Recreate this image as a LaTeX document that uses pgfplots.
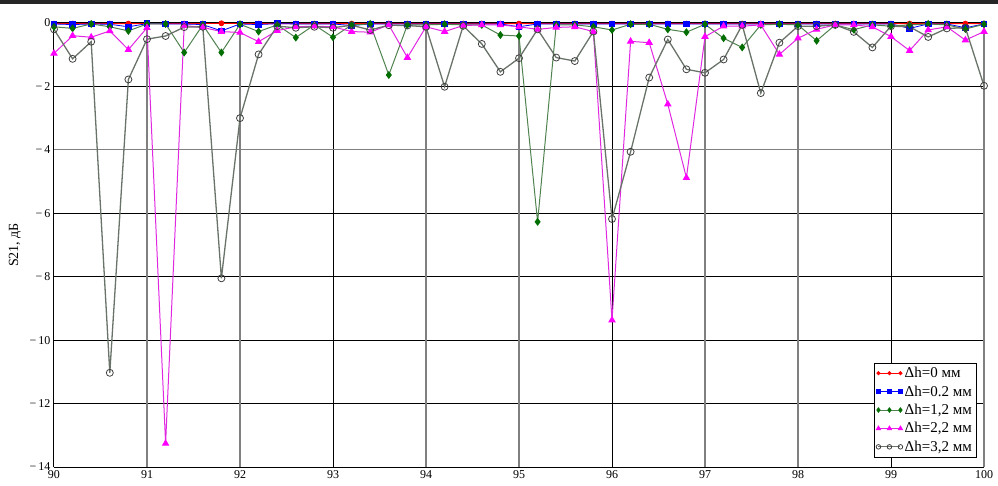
\documentclass[border=0pt]{standalone}
\usepackage{fontspec}
\setmainfont{Liberation Serif}
\usepackage{pgfplots}
\pgfplotsset{compat=1.18}
\usepackage{pgfplotstable}

\pgfplotstableread{
x s1 s2 s3 s4 s5
90.0 -0.02 -0.03 -0.12 -0.96 -0.20
90.2 -0.02 -0.05 -0.17 -0.40 -1.13
90.4 -0.02 -0.03 -0.03 -0.45 -0.59
90.6 -0.02 -0.04 -0.12 -0.25 -11.03
90.8 -0.02 -0.12 -0.25 -0.84 -1.78
91.0 -0.02 -0.02 -0.03 -0.15 -0.51
91.2 -0.02 -0.03 -0.03 -13.26 -0.41
91.4 -0.02 -0.03 -0.93 -0.08 -0.13
91.6 -0.02 -0.05 -0.06 -0.14 -0.12
91.8 -0.01 -0.25 -0.93 -0.27 -8.05
92.0 -0.02 -0.03 -0.04 -0.30 -3.00
92.2 -0.02 -0.05 -0.27 -0.59 -0.99
92.4 -0.02 -0.02 -0.06 -0.24 -0.10
92.6 -0.02 -0.03 -0.46 -0.12 -0.15
92.8 -0.02 -0.03 -0.06 -0.10 -0.12
93.0 -0.02 -0.03 -0.45 -0.12 -0.15
93.2 -0.02 -0.08 -0.06 -0.27 -0.07
93.4 -0.02 -0.03 -0.03 -0.29 -0.22
93.6 -0.02 -0.03 -1.64 -0.06 -0.07
93.8 -0.02 -0.03 -0.06 -1.09 -0.08
94.0 -0.02 -0.03 -0.06 -0.12 -0.12
94.2 -0.02 -0.03 -0.04 -0.27 -2.01
94.4 -0.02 -0.03 -0.06 -0.08 -0.09
94.6 -0.02 -0.03 -0.06 -0.06 -0.66
94.8 -0.02 -0.03 -0.38 -0.06 -1.54
95.0 -0.02 -0.12 -0.41 -0.12 -1.11
95.2 -0.02 -0.03 -6.27 -0.20 -0.20
95.4 -0.02 -0.03 -0.06 -0.14 -1.09
95.6 -0.02 -0.03 -0.06 -0.12 -1.20
95.8 -0.02 -0.03 -0.12 -0.27 -0.27
96.0 -0.02 -0.03 -0.22 -9.37 -6.18
96.2 -0.02 -0.03 -0.04 -0.58 -4.06
96.4 -0.02 -0.03 -0.04 -0.62 -1.72
96.6 -0.02 -0.03 -0.20 -2.56 -0.52
96.8 -0.02 -0.03 -0.29 -4.88 -1.46
97.0 -0.02 -0.03 -0.04 -0.43 -1.57
97.2 -0.02 -0.03 -0.48 -0.10 -1.15
97.4 -0.02 -0.03 -0.77 -0.10 -0.06
97.6 -0.02 -0.03 -0.06 -0.06 -2.21
97.8 -0.02 -0.03 -0.04 -0.99 -0.62
98.0 -0.02 -0.03 -0.06 -0.48 -0.10
98.2 -0.02 -0.03 -0.56 -0.20 -0.10
98.4 -0.02 -0.03 -0.06 -0.06 -0.06
98.6 -0.02 -0.03 -0.21 -0.06 -0.28
98.8 -0.02 -0.03 -0.06 -0.12 -0.77
99.0 -0.02 -0.03 -0.10 -0.43 -0.10
99.2 -0.02 -0.17 -0.06 -0.87 -0.12
99.4 -0.02 -0.03 -0.03 -0.22 -0.44
99.6 -0.02 -0.03 -0.06 -0.12 -0.17
99.8 -0.02 -0.15 -0.19 -0.54 -0.15
100.0 -0.02 -0.03 -0.04 -0.27 -1.98
}\datatable

\definecolor{cred}{RGB}{255,0,0}
\definecolor{cblue}{RGB}{0,0,255}
\definecolor{cgreen}{RGB}{0,110,0}
\definecolor{cgline}{RGB}{80,130,80}
\definecolor{cmag}{RGB}{255,0,255}
\definecolor{cmline}{RGB}{225,40,225}
\definecolor{cgray}{RGB}{105,115,105}
\definecolor{gridgray}{RGB}{128,128,128}

\begin{document}
\begin{tikzpicture}
\useasboundingbox (0,0) rectangle (998pt,485pt);
\fill[black!85] (0,481pt) rectangle (998pt,485pt);
\begin{axis}[
  at={(54pt,18pt)}, anchor=south west,
  scale only axis, width=930pt, height=444pt,
  xmin=90, xmax=100, ymin=-14, ymax=0,
  axis lines=left, axis line style={-, black, line width=1pt},
  xtick={90,93,96,99},
  extra x ticks={91,92,94,95,97,98,100},
  extra x tick style={grid=major, major grid style={gridgray, line width=1.6pt}},
  ytick={-14,-12,-10,-8,-6,-2,0},
  yticklabels={−\,14,−\,12,−\,10,−\,8,−\,6,−\,2,0},
  extra y ticks={-4},
  extra y tick labels={−\,4},
  extra y tick style={grid=major, major grid style={gridgray, line width=1.2pt}},
  grid=major,
  major grid style={black, line width=1pt},
  major tick length=0pt,
  /pgf/number format/assume math mode=true,
  tick label style={font=\fontsize{12}{14}\selectfont},
  ylabel={S21, дБ},
  ylabel style={at={(axis description cs:-0.042,0.5)}, anchor=center, font=\fontsize{14}{16}\selectfont},
  legend style={at={(rel axis cs:1,0)}, anchor=south east, xshift=-8pt, yshift=10pt,
    draw=black, fill=white, font=\fontsize{15}{17}\selectfont,
    row sep=2.5pt, inner sep=2pt, cells={anchor=west}},
  legend image code/.code={\draw[mark repeat=1,mark phase=1,#1,/tikz/every mark/.append style={scale=0.65}] plot coordinates {(0pt,0pt)(11pt,0pt)(22pt,0pt)};},
  clip=false,
]
\addplot[color=cred, line width=0.8pt, mark=*, mark size=2.5pt, mark options={fill=cred, draw=cred}] table[x=x,y=s1]{\datatable};
\addlegendentry{Δh=0 мм}
\addplot[color=cblue, line width=0.8pt, mark=square*, mark size=2.8pt, mark options={fill=cblue, draw=cblue}] table[x=x,y=s2]{\datatable};
\addlegendentry{Δh=0.2 мм}
\addplot[color=cgline, line width=1pt, mark=diamond*, mark size=3.2pt, mark options={fill=cgreen, draw=cgreen}] table[x=x,y=s3]{\datatable};
\addlegendentry{Δh=1,2 мм}
\addplot[color=cmline, line width=1pt, mark=triangle*, mark size=3.4pt, mark options={fill=cmag, draw=cmag}] table[x=x,y=s4]{\datatable};
\addlegendentry{Δh=2,2 мм}
\addplot[color=cgray, line width=1.3pt, mark=o, mark size=3.5pt, mark options={draw=black!75, line width=0.8pt}] table[x=x,y=s5]{\datatable};
\addlegendentry{Δh=3,2 мм}
\end{axis}
\end{tikzpicture}
\end{document}
